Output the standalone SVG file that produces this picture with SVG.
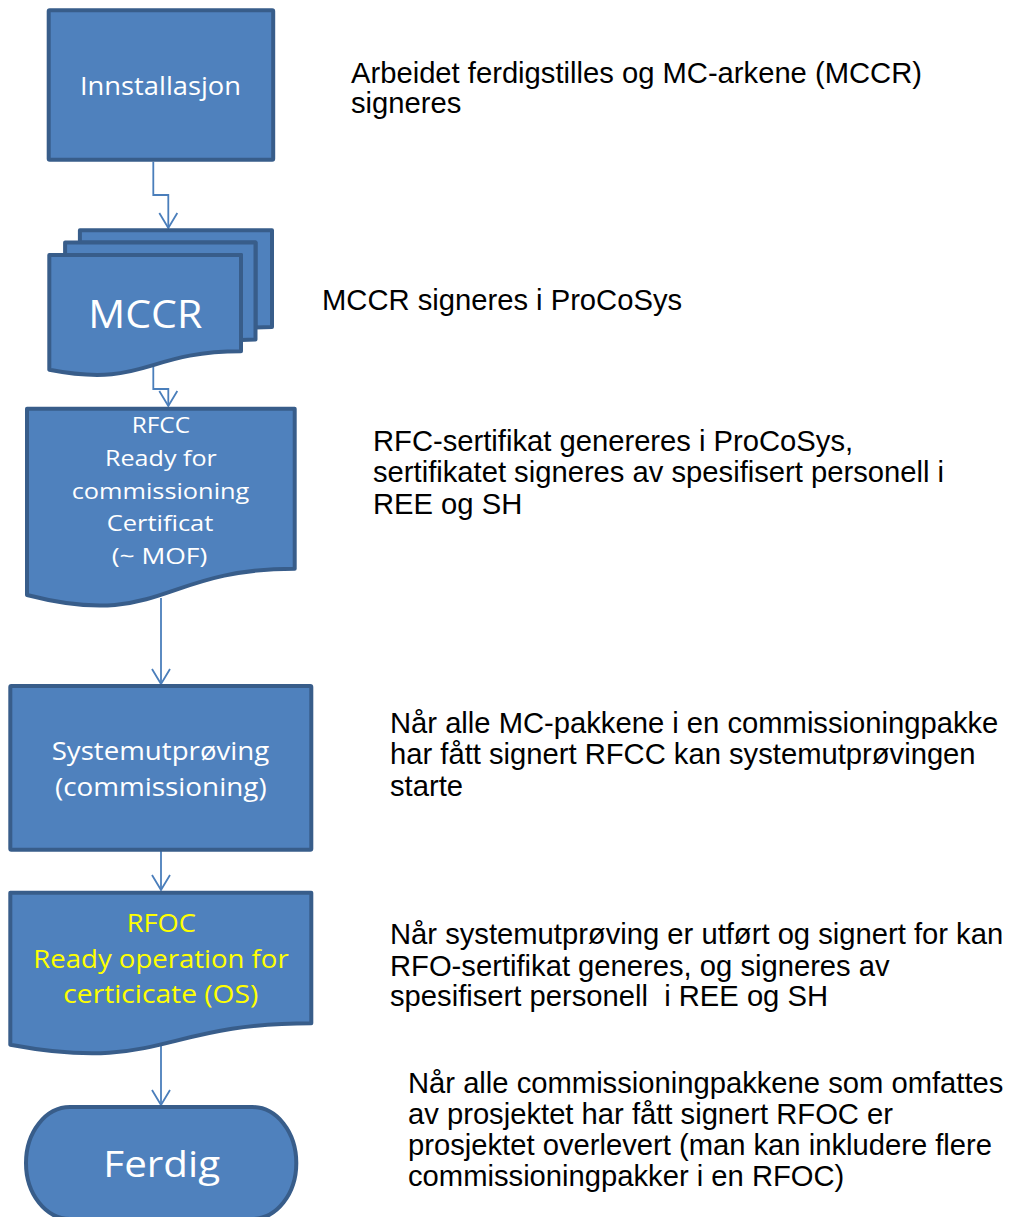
<svg xmlns="http://www.w3.org/2000/svg" width="1009" height="1217" viewBox="0 0 1009 1217">
  <defs>
    <marker id="arrow" markerUnits="userSpaceOnUse" markerWidth="24" markerHeight="24" viewBox="-12 -20 24 24" refX="0" refY="0" orient="auto-start-reverse" overflow="visible">
      <path d="M-15,-9 L0,0 L-15,9" fill="none" stroke="#4A7EBB" stroke-width="1.8"/>
    </marker>
    <style>
      .shape { fill: #4F81BD; stroke: #385D8A; stroke-width: 4; stroke-linejoin: round; }
      .label { font-family: "Open Sans", "Liberation Sans", sans-serif; fill: #FFFFFF; text-anchor: middle; }
      .yellow { fill: #FFFF00; }
      .note { font-family: "Liberation Sans", Arial, sans-serif; font-size: 29.2px; fill: #000000; }
      .conn { fill: none; stroke: #4A7EBB; stroke-width: 1.8; marker-end: url(#arrow); }
    </style>
  </defs>
  <rect width="1009" height="1217" fill="#FFFFFF"/>

  <!-- connectors -->
  <g id="connectors">
    <path class="conn" d="M153.3,161.7 V195 H168.3 V228"/>
    <path class="conn" d="M153.3,366 V389 H168.3 V406"/>
    <path class="conn" d="M161,598 V684"/>
    <path class="conn" d="M161,851 V890"/>
    <path class="conn" d="M161,1046 V1105"/>
  </g>

  <!-- process: installation -->
  <g id="node-innstallasjon">
    <rect class="shape" x="48.7" y="10.3" width="224.5" height="149.5" rx="1"/>
    <text class="label" x="160.5" y="95" font-size="25" textLength="161" lengthAdjust="spacingAndGlyphs">Innstallasjon</text>
  </g>

  <!-- multi-document: MCCR -->
  <g id="node-mccr">
    <path class="shape" d="M79.9,242.5 V230.3 H272 V326.9 C263.7,326.9 255.5,327.4 255.5,327.4 V242.5 Z"/>
    <path class="shape" d="M65.1,255 V242.5 H255.5 V339.4 C248.3,339.4 241,340.1 241,340.1 V255 Z"/>
    <path class="shape" d="M49.3,369.8 C145.2,388.3 145.2,351.3 241,351.3 V255 H49.3 Z"/>
    <text class="label" x="145.3" y="328.3" font-size="39" textLength="114" lengthAdjust="spacingAndGlyphs">MCCR</text>
  </g>

  <!-- document: RFCC -->
  <g id="node-rfcc">
    <path class="shape" d="M27,408.7 H294.7 V568.7 C160.85,568.7 160.85,629.6 27,595 Z"/>
    <g class="label" font-size="21">
      <text x="160.9" y="433.3" textLength="58.3" lengthAdjust="spacingAndGlyphs">RFCC</text>
      <text x="160.9" y="466.3" textLength="111.7" lengthAdjust="spacingAndGlyphs">Ready for</text>
      <text x="160.5" y="499" textLength="177.7" lengthAdjust="spacingAndGlyphs">commissioning</text>
      <text x="160" y="531.3" textLength="106.7" lengthAdjust="spacingAndGlyphs">Certificat</text>
      <text x="159.5" y="563.5" textLength="95.7" lengthAdjust="spacingAndGlyphs">(~ MOF)</text>
    </g>
  </g>

  <!-- process: system testing -->
  <g id="node-systemutproving">
    <rect class="shape" x="10.3" y="686" width="301" height="163.7" rx="1"/>
    <g class="label" font-size="25.6">
      <text x="160.5" y="760" textLength="217.7" lengthAdjust="spacingAndGlyphs">Systemutprøving</text>
      <text x="160.8" y="796" textLength="211.7" lengthAdjust="spacingAndGlyphs">(commissioning)</text>
    </g>
  </g>

  <!-- document: RFOC -->
  <g id="node-rfoc">
    <path class="shape" d="M10.3,892.7 H311.3 V1023.2 C160.8,1023.2 160.8,1072.9 10.3,1044.7 Z"/>
    <g class="label yellow" font-size="25.6">
      <text x="161.3" y="931.7" textLength="69.3" lengthAdjust="spacingAndGlyphs">RFOC</text>
      <text x="161" y="967.7" textLength="255.3" lengthAdjust="spacingAndGlyphs">Ready operation for</text>
      <text x="160.8" y="1003" textLength="195" lengthAdjust="spacingAndGlyphs">certicicate (OS)</text>
    </g>
  </g>

  <!-- terminator: done -->
  <g id="node-ferdig">
    <rect class="shape" x="26" y="1107" width="270.3" height="112" rx="44" ry="56"/>
    <text class="label" x="161.7" y="1176.7" font-size="37" textLength="116.7" lengthAdjust="spacingAndGlyphs">Ferdig</text>
  </g>

  <!-- step descriptions -->
  <g id="notes">
    <text class="note" x="351" y="83">Arbeidet ferdigstilles og MC-arkene (MCCR)</text>
    <text class="note" x="351" y="113">signeres</text>
    <text class="note" x="322" y="310">MCCR signeres i ProCoSys</text>
    <text class="note" x="373" y="451">RFC-sertifikat genereres i ProCoSys,</text>
    <text class="note" x="373" y="482">sertifikatet signeres av spesifisert personell i</text>
    <text class="note" x="373" y="514">REE og SH</text>
    <text class="note" x="390" y="733">Når alle MC-pakkene i en commissioningpakke</text>
    <text class="note" x="390" y="764">har fått signert RFCC kan systemutprøvingen</text>
    <text class="note" x="390" y="796">starte</text>
    <text class="note" x="390" y="944">Når systemutprøving er utført og signert for kan</text>
    <text class="note" x="390" y="976">RFO-sertifikat generes, og signeres av</text>
    <text class="note" x="390" y="1006" xml:space="preserve">spesifisert personell  i REE og SH</text>
    <text class="note" x="408" y="1093">Når alle commissioningpakkene som omfattes</text>
    <text class="note" x="408" y="1124">av prosjektet har fått signert RFOC er</text>
    <text class="note" x="408" y="1155">prosjektet overlevert (man kan inkludere flere</text>
    <text class="note" x="408" y="1186">commissioningpakker i en RFOC)</text>
  </g>
</svg>
